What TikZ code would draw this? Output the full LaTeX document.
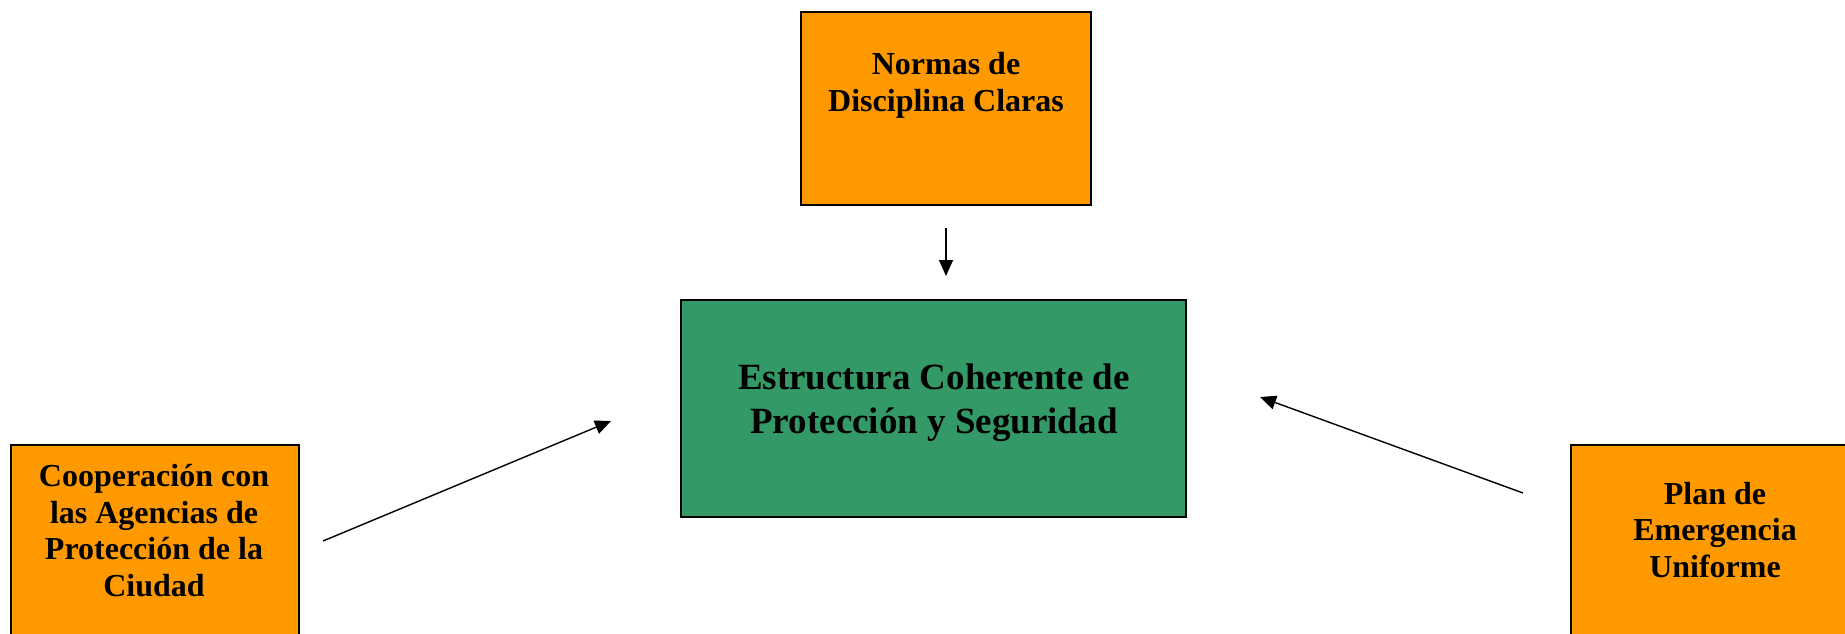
\documentclass[tikz,border=0pt]{standalone}
\usepackage{fontspec}
\setmainfont{Liberation Serif}
\usetikzlibrary{arrows.meta}
\definecolor{boxorange}{HTML}{FF9900}
\definecolor{boxgreen}{HTML}{339966}
\begin{document}
\begin{tikzpicture}[x=1pt,y=-1pt,
  obox/.style={draw=black, line width=1.8pt, fill=boxorange, inner sep=0pt},
  gbox/.style={draw=black, line width=1.8pt, fill=boxgreen, inner sep=0pt},
  otxt/.style={font=\bfseries\fontsize{32}{36.5}\selectfont, align=center, inner sep=0pt},
  gtxt/.style={font=\bfseries\fontsize{37}{44}\selectfont, align=center, inner sep=0pt},
  arr/.style={line width=1.4pt, -{Triangle[length=16pt,width=14pt]}}]
\useasboundingbox (0,0) rectangle (1845,633);
\clip (0,0) rectangle (1845,633);
% boxes
\node[obox, minimum width=290pt, minimum height=193pt] (normas) at (946,108.5) {};
\node[gbox, minimum width=505pt, minimum height=217pt] (estructura) at (933.5,408.5) {};
\node[obox, minimum width=288pt, minimum height=260pt, anchor=north west] (coop) at (10,444) {};
\node[obox, minimum width=290pt, minimum height=260pt, anchor=north west] (plan) at (1570,444) {};
% texts
\node[otxt] (normasT) at (946,85.5) {Normas de\\Disciplina Claras};
\node[gtxt] (estructuraT) at (934,403) {Estructura Coherente de\\Protección y Seguridad};
\node[otxt] (coopT) at (154,530.5) {Cooperación con\\las Agencias de\\Protección de la\\Ciudad};
\node[otxt] (planT) at (1715,530) {Plan de\\Emergencia\\Uniforme};
% arrow ends
\coordinate (a1s) at (946,228);
\coordinate (a1e) at (946,276);
\coordinate (a2s) at (323,541);
\coordinate (a2e) at (611,421);
\coordinate (a3s) at (1523,493);
\coordinate (a3e) at (1260,397);
\draw[arr] (a1s) -- (a1e);
\draw[arr] (a2s) -- (a2e);
\draw[arr] (a3s) -- (a3e);
\end{tikzpicture}
\end{document}
